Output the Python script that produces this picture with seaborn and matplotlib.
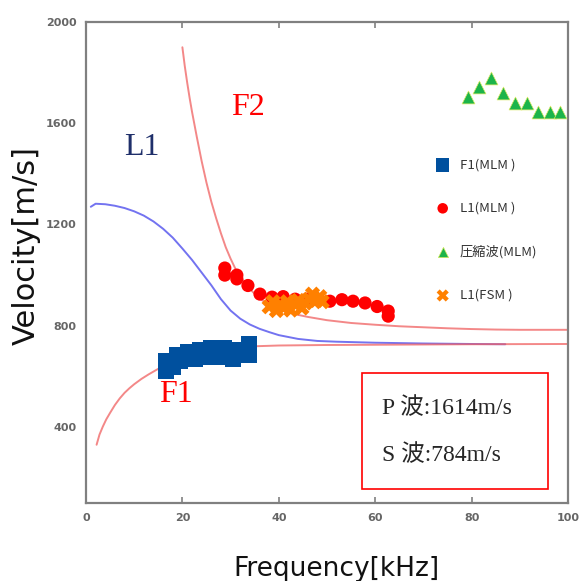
import matplotlib
matplotlib.use("Agg")
import matplotlib.pyplot as plt
from matplotlib.patches import Rectangle
import seaborn as sns

# --- Curvas teóricas ---
F2_FREQ = [20, 20.5, 21, 21.5, 22, 23, 24, 25, 26, 27, 28, 29, 30, 31, 32, 34, 36, 38,
           40, 43, 46, 50, 55, 60, 65, 70, 75, 80, 85, 90, 100]
F2_VEL = [1900, 1825, 1760, 1700, 1645, 1545, 1450, 1365, 1290, 1225, 1165, 1110, 1065,
          1025, 993, 945, 908, 882, 864, 847, 835, 822, 811, 804, 798, 794, 790, 787,
          785, 784, 784]

F1_FREQ = [2.2, 2.8, 3.5, 4.2, 5, 6, 7, 8, 9, 10, 11.5, 13, 15, 17, 19, 21, 24, 27, 30,
           35, 40, 50, 60, 80, 100]
F1_VEL = [330, 370, 402, 430, 456, 487, 513, 535, 553, 569, 590, 608, 630, 650, 666,
          680, 695, 705, 712, 719, 722, 724, 725, 727, 728]

L1_FREQ = [1, 2, 4, 6, 8, 10, 12, 14, 16, 18, 20, 22, 24, 26, 28, 30, 32, 34, 36, 38,
           40, 44, 48, 52, 56, 60, 70, 80, 87]
L1_VEL = [1270, 1282, 1280, 1274, 1265, 1252, 1235, 1212, 1183, 1148, 1105, 1060, 1010,
          960, 905, 860, 828, 805, 788, 775, 763, 748, 740, 737, 735, 733, 730, 728, 727]

# --- Medições ---
F1_MLM_FREQ = [16.6, 16.6, 18.0, 19.0, 19.5, 21.3, 22.5, 23.7, 25.0, 26.0, 27.5, 28.5,
               30.5, 30.5, 33.8, 33.8]
F1_MLM_VEL = [659, 623, 640, 682, 663, 694, 671, 702, 678, 710, 679, 710, 702, 671,
              726, 686]

L1_MLM_FREQ = [28.8, 28.8, 31.3, 31.3, 33.6, 36.1, 38.6, 40.9, 43.4, 45.9, 48.1, 50.6,
               53.1, 55.4, 57.9, 60.4, 62.7, 62.7]
L1_MLM_VEL = [1028, 1000, 1000, 985, 959, 925, 913, 915, 905, 905, 903, 897, 903, 897,
              890, 876, 858, 838]

P_MLM_FREQ = [79.3, 81.5, 84.0, 86.5, 89.0, 91.5, 93.8, 96.3, 98.3]
P_MLM_VEL = [1704, 1743, 1779, 1719, 1680, 1680, 1644, 1644, 1644]

L1_FSM_FREQ = [38.0, 38.8, 39.5, 40.3, 41.0, 41.8, 42.5, 43.3, 44.0, 44.8, 45.5, 46.3,
               47.0, 47.8, 48.5, 49.0]
L1_FSM_VEL = [875, 895, 860, 885, 870, 895, 862, 885, 900, 870, 890, 905, 925, 900,
              915, 895]

X_TICKS = [0, 20, 40, 60, 80, 100]
Y_TICKS = [400, 800, 1200, 1600, 2000]

sns.set_theme(style="white")
plt.rcParams["font.family"] = ["DejaVu Sans", "Noto Sans CJK JP"]

fig = plt.figure(figsize=(5.81, 5.81), dpi=100)
ax = fig.add_axes([0.148, 0.1343, 0.8296, 0.8279])

# curvas
sns.lineplot(x=L1_FREQ, y=L1_VEL, ax=ax, color="#5a5aee", lw=1.4, alpha=0.85,
             sort=False, estimator=None, legend=False, zorder=1)
sns.lineplot(x=F1_FREQ, y=F1_VEL, ax=ax, color="#f06060", lw=1.4, alpha=0.75,
             sort=False, estimator=None, legend=False, zorder=2)
sns.lineplot(x=F2_FREQ, y=F2_VEL, ax=ax, color="#f06060", lw=1.4, alpha=0.75,
             sort=False, estimator=None, legend=False, zorder=2)

# medições
sns.scatterplot(x=F1_MLM_FREQ, y=F1_MLM_VEL, ax=ax, marker="s", s=145, color="#00509e",
                edgecolor="none", label="F1(MLM )", zorder=4)
sns.scatterplot(x=L1_MLM_FREQ, y=L1_MLM_VEL, ax=ax, marker="o", s=90, color="#ff0000",
                edgecolor="none", label="L1(MLM )", zorder=4)
sns.scatterplot(x=P_MLM_FREQ, y=P_MLM_VEL, ax=ax, marker="^", s=85, color="#1cb44a",
                edgecolor="#d8e860", linewidth=0.5, label="圧縮波(MLM)", zorder=4)
sns.scatterplot(x=L1_FSM_FREQ, y=L1_FSM_VEL, ax=ax, marker="X", s=120, color="#ff8000",
                edgecolor="none", label="L1(FSM )", zorder=5)

ax.set_xlim(0, 100)
ax.set_ylim(100, 2000)
ax.set_xticks(X_TICKS)
ax.set_yticks(Y_TICKS)

for side in ["left", "right", "top", "bottom"]:
    ax.spines[side].set_color("#808080")
    ax.spines[side].set_linewidth(1.6)

ax.tick_params(axis="x", direction="in", length=4, width=1.2, color="#808080",
               top=True, bottom=True, pad=7, labelsize=8, labelcolor="#666666")
ax.tick_params(axis="y", length=0, pad=7, labelsize=8, labelcolor="#666666")
for lbl in ax.get_xticklabels() + ax.get_yticklabels():
    lbl.set_fontweight("bold")

ax.set_xlabel("Frequency[kHz]", fontsize=19, color="#111111")
ax.set_ylabel("Velocity[m/s]", fontsize=22, color="#111111")
ax.xaxis.set_label_coords(0.52, -0.11)
ax.yaxis.set_label_coords(-0.093, 0.536)

# rótulos dos modos
serif = ["Liberation Serif", "Noto Sans CJK JP"]
ax.text(11.6, 1503, "L1", fontsize=23, color="#1f2f6a", family=serif,
        ha="center", va="center")
ax.text(33.5, 1661, "F2", fontsize=23, color="#ff0000", family=serif,
        ha="center", va="center")
ax.text(18.6, 529, "F1", fontsize=23, color="#ff0000", family=serif,
        ha="center", va="center")

# caixa com as velocidades
ax.add_patch(Rectangle((0.5726, 0.029), 0.386, 0.241, transform=ax.transAxes,
                       facecolor="white", edgecolor="#ff0000", lw=1.2, zorder=6))
ax.text(0.614, 0.1975, "P 波:1614m/s", transform=ax.transAxes, fontsize=17,
        family=serif, va="center", ha="left", zorder=7)
ax.text(0.614, 0.0998, "S 波:784m/s", transform=ax.transAxes, fontsize=17,
        family=serif, va="center", ha="left", zorder=7)

leg = ax.legend(loc="upper left", bbox_to_anchor=(0.7127, 0.73), frameon=False,
                borderpad=0, handlelength=1.0, handletextpad=0.8, labelspacing=2.3,
                markerscale=0.8, prop={"family": ["Noto Sans CJK JP"], "size": 9.5})
for t in leg.get_texts():
    t.set_color("#333333")

fig.savefig("out.png", dpi=100)
